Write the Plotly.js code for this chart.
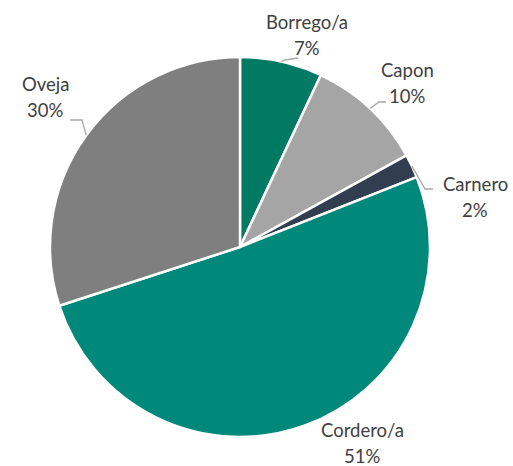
<!DOCTYPE html>
<html><head><meta charset="utf-8">
<script src="https://cdn.plot.ly/plotly-3.0.1.min.js"></script>
<style>html,body{margin:0;padding:0;background:#fff}#chart{width:513px;height:466px}</style>
</head><body><div id="chart"></div>
<script>
const categories = ["Borrego/a", "Capon", "Carnero", "Cordero/a", "Oveja"];
const values = [7, 10, 2, 51, 30];
const colors = ["#007a63", "#a5a5a5", "#323e4f", "#00897a", "#7f7f7f"];

// layout (pixels)
const W = 513, H = 466;
const cx = 240, cy = 247, R = 190;
// label text-block centers
const labelPos = [[307, 35], [407, 83], [475, 197], [362, 443], [45, 97]];
const lineGap = 26;
// leader line end points (null = no line)
const leaderEnd = [[298, 58], [386, 102], [433, 189], null, [70, 120]];
const elbow = [[284, 60], [379, 102], [425, 189], null, [82, 120]];

const total = values.reduce((a, b) => a + b, 0);
const px = x => x / W, py = y => 1 - y / H;
const font = {family: 'Lato, "Open Sans", sans-serif', size: 18.5, color: '#404040'};

const annotations = [];
const shapes = [];
let cum = 0;
categories.forEach((c, i) => {
  const mid = (cum + values[i] / 2) / total * 2 * Math.PI;
  cum += values[i];
  const pct = Math.round(values[i] / total * 100);
  [[c, -lineGap / 2], [pct + '%', lineGap / 2]].forEach(([t, dy]) => {
    annotations.push({
      xref: 'paper', yref: 'paper', x: px(labelPos[i][0]), y: py(labelPos[i][1] + dy),
      xanchor: 'center', yanchor: 'middle', showarrow: false, align: 'center',
      text: t, font: font
    });
  });
  if (leaderEnd[i]) {
    const sx = cx + R * Math.sin(mid), sy = cy - R * Math.cos(mid);
    shapes.push({
      type: 'path', xref: 'paper', yref: 'paper',
      path: 'M' + px(sx) + ',' + py(sy) + ' L' + px(elbow[i][0]) + ',' + py(elbow[i][1]) +
            ' L' + px(leaderEnd[i][0]) + ',' + py(leaderEnd[i][1]),
      line: {color: '#a6a6a6', width: 1.3}
    });
  }
});

const trace = {
  type: 'pie', labels: categories, values: values, sort: false,
  direction: 'clockwise', rotation: 0, textinfo: 'none', hoverinfo: 'label+percent',
  marker: {colors: colors, line: {color: '#ffffff', width: 2.5}},
  domain: {x: [(cx - R) / W, (cx + R) / W], y: [(H - cy - R) / H, (H - cy + R) / H]},
  showlegend: false
};

Plotly.newPlot('chart', [trace], {
  width: W, height: H, margin: {l: 0, r: 0, t: 0, b: 0},
  paper_bgcolor: '#ffffff', showlegend: false,
  annotations: annotations, shapes: shapes
}, {displayModeBar: false, staticPlot: true});
</script></body></html>
